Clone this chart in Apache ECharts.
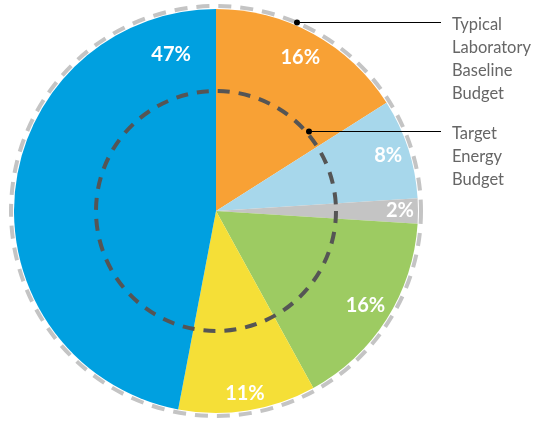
<!DOCTYPE html>
<html>
<head>
<meta charset="utf-8">
<script src="https://cdn.jsdelivr.net/npm/echarts@6/dist/echarts.min.js"></script>
<style>
  html, body { margin: 0; padding: 0; background: #ffffff; }
  #chart { width: 538px; height: 421px; }
</style>
</head>
<body>
<div id="chart"></div>
<script>
// Budget share by end use, clockwise from 12 o'clock
const categories = ['Segment A', 'Segment B', 'Segment C', 'Segment D', 'Segment E', 'Segment F'];
const shares = [16, 8, 2, 16, 11, 47];
const sliceColors = ['#F8A135', '#A7D7EB', '#C4C4C4', '#9DCB62', '#F5DF37', '#00A0E0'];

// Annotation texts on the right
const outerLabel = ['Typical', 'Laboratory', 'Baseline', 'Budget'];
const innerLabel = ['Target', 'Energy', 'Budget'];

// Geometry
const CX = 216, CY = 211;
const PIE_R = 202;
const OUTER_RING_R = 205;
const INNER_RING_R = 120;

// Label placement per slice: [angle override in degrees clockwise from top (null = mid-angle), radius]
const labelSpot = [[null, 175], [null, 181], [null, 184], [null, 177], [null, 185], [344, 163]];

const total = shares.reduce((a, b) => a + b, 0);
const midAngles = [];
let acc = 0;
shares.forEach(v => {
  midAngles.push((acc + v / 2) / total * 360);
  acc += v;
});

function polar(angleDeg, r) {
  const a = angleDeg * Math.PI / 180;
  return [CX + r * Math.sin(a), CY - r * Math.cos(a)];
}

const chart = echarts.init(document.getElementById('chart'), null, { renderer: 'canvas' });

const textStyleRight = {
  fill: '#666666',
  font: '16.5px Lato, "Open Sans", sans-serif',
  lineHeight: 23
};

chart.setOption({
  animation: false,
  backgroundColor: '#ffffff',
  series: [{
    type: 'pie',
    center: [CX, CY],
    radius: [0, PIE_R],
    startAngle: 90,
    clockwise: true,
    silent: true,
    avoidLabelOverlap: false,
    itemStyle: { borderWidth: 0 },
    label: {
      show: true,
      position: 'inside',
      formatter: p => p.value + '%',
      color: '#ffffff',
      fontFamily: 'Lato, "Open Sans", sans-serif',
      fontWeight: 'bold',
      fontSize: 20
    },
    labelLine: { show: false },
    labelLayout: function (params) {
      const i = params.dataIndex;
      const spot = labelSpot[i];
      const ang = spot[0] == null ? midAngles[i] : spot[0];
      const pt = polar(ang, spot[1]);
      return { x: pt[0], y: pt[1], align: 'center', verticalAlign: 'middle' };
    },
    data: categories.map((name, i) => ({
      name: name,
      value: shares[i],
      itemStyle: { color: sliceColors[i] }
    }))
  }],
  graphic: [
    {
      type: 'circle',
      shape: { cx: CX, cy: CY, r: OUTER_RING_R },
      style: { fill: null, stroke: '#C4C4C4', lineWidth: 4, lineDash: [13, 9] },
      z: 10
    },
    {
      type: 'circle',
      shape: { cx: CX, cy: CY, r: INNER_RING_R },
      style: { fill: null, stroke: '#555555', lineWidth: 4, lineDash: [12, 9] },
      z: 10
    },
    // leader to outer ring
    {
      type: 'line',
      shape: { x1: 297, y1: 22.5, x2: 441, y2: 22.5 },
      style: { stroke: '#000000', lineWidth: 1 },
      z: 11
    },
    {
      type: 'circle',
      shape: { cx: 297, cy: 22.5, r: 3 },
      style: { fill: '#000000' },
      z: 11
    },
    // leader to inner ring
    {
      type: 'line',
      shape: { x1: 309, y1: 131.5, x2: 441, y2: 131.5 },
      style: { stroke: '#000000', lineWidth: 1 },
      z: 11
    },
    {
      type: 'circle',
      shape: { cx: 309, cy: 131.5, r: 3 },
      style: { fill: '#000000' },
      z: 11
    },
    {
      type: 'text',
      left: 452,
      top: 13,
      style: Object.assign({ text: outerLabel.join('\n') }, textStyleRight),
      z: 11
    },
    {
      type: 'text',
      left: 452,
      top: 122,
      style: Object.assign({ text: innerLabel.join('\n') }, textStyleRight),
      z: 11
    }
  ]
});
</script>
</body>
</html>
